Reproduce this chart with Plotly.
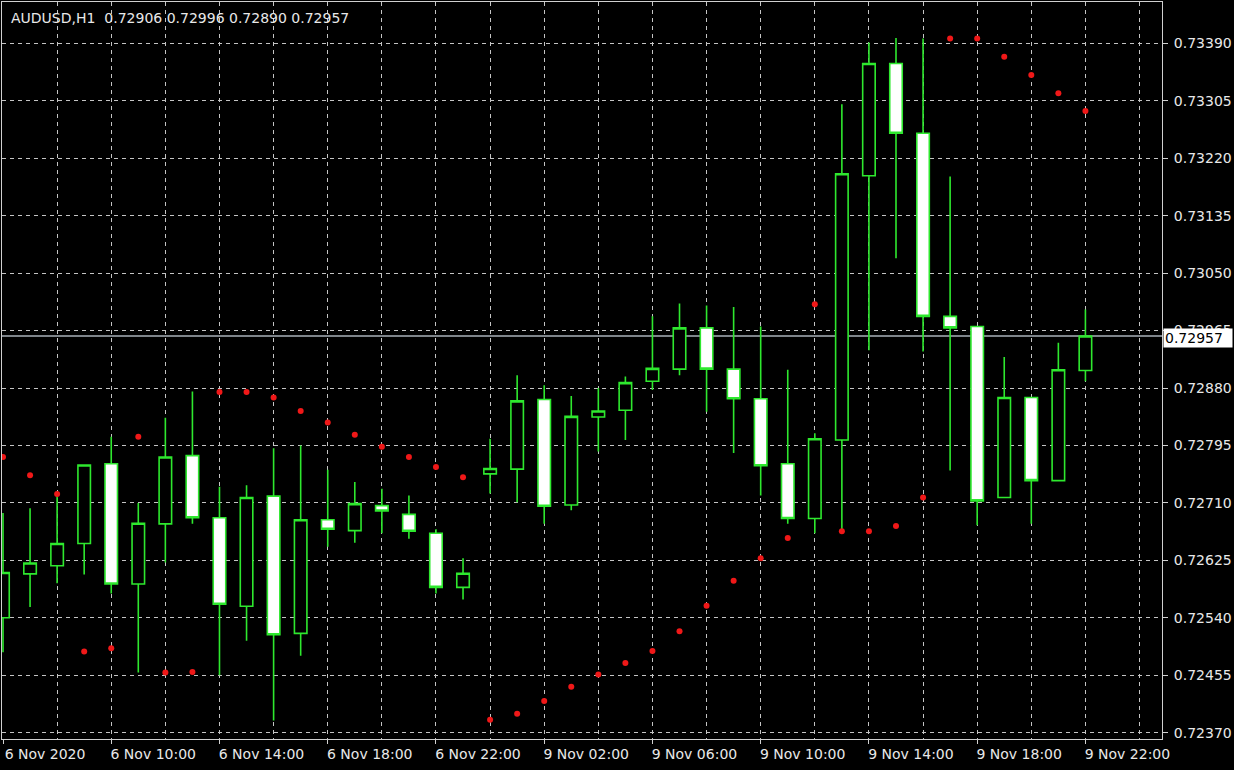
import plotly.graph_objects as go

symbol = "AUDUSD,H1"

# hourly bars: 6 Nov 2020 06:00 ... 9 Nov 2020 22:00 (index 0..40)
open_ = [0.72540, 0.72605, 0.72617, 0.72650, 0.72768, 0.72590, 0.72679, 0.72780, 0.72688, 0.72557,
         0.72720, 0.72517, 0.72685, 0.72669, 0.72706, 0.72693, 0.72665, 0.72585, 0.72753, 0.72760,
         0.72863, 0.72707, 0.72837, 0.72847, 0.72890, 0.72908, 0.72969, 0.72908, 0.72864, 0.72768,
         0.72687, 0.72803, 0.73194, 0.73360, 0.73257, 0.72986, 0.72971, 0.72718, 0.72866, 0.72743,
         0.72906]
high = [0.72695, 0.72702, 0.72721, 0.72767, 0.72808, 0.72710, 0.72836, 0.72875, 0.72734, 0.72736,
        0.72791, 0.72795, 0.72759, 0.72741, 0.72731, 0.72721, 0.72671, 0.72628, 0.72805, 0.72899,
        0.72884, 0.72868, 0.72880, 0.72897, 0.72986, 0.73005, 0.73002, 0.73000, 0.72971, 0.72907,
        0.72813, 0.73300, 0.73391, 0.73398, 0.73397, 0.73193, 0.72972, 0.72926, 0.72867, 0.72947,
        0.72996]
low = [0.72489, 0.72556, 0.72591, 0.72604, 0.72576, 0.72459, 0.72622, 0.72679, 0.72455, 0.72506,
       0.72388, 0.72484, 0.72645, 0.72651, 0.72665, 0.72657, 0.72576, 0.72567, 0.72724, 0.72711,
       0.72679, 0.72699, 0.72786, 0.72803, 0.72877, 0.72899, 0.72845, 0.72784, 0.72721, 0.72679,
       0.72665, 0.72669, 0.72936, 0.73072, 0.72934, 0.72758, 0.72677, 0.72717, 0.72679, 0.72742,
       0.72890]
close = [0.72607, 0.72621, 0.72650, 0.72766, 0.72590, 0.72680, 0.72778, 0.72688, 0.72560, 0.72718,
         0.72515, 0.72685, 0.72671, 0.72709, 0.72698, 0.72668, 0.72585, 0.72606, 0.72761, 0.72861,
         0.72705, 0.72838, 0.72846, 0.72888, 0.72909, 0.72969, 0.72908, 0.72864, 0.72765, 0.72687,
         0.72805, 0.73197, 0.73360, 0.73257, 0.72986, 0.72969, 0.72713, 0.72866, 0.72743, 0.72907,
         0.72957]
# parabolic SAR dots
sar = [0.72778, 0.72751, 0.72723, 0.72490, 0.72495, 0.72808, 0.72459, 0.72460, 0.72874, 0.72874,
       0.72866, 0.72846, 0.72829, 0.72811, 0.72793, 0.72778, 0.72763, 0.72748, 0.72389, 0.72398,
       0.72417, 0.72438, 0.72456, 0.72473, 0.72491, 0.72520, 0.72558, 0.72595, 0.72628, 0.72658,
       0.73004, 0.72668, 0.72668, 0.72676, 0.72718, 0.73397, 0.73397, 0.73370, 0.73343, 0.73316,
       0.73290]

tick_labels = ["6 Nov 2020", "6 Nov 10:00", "6 Nov 14:00", "6 Nov 18:00", "6 Nov 22:00",
               "9 Nov 02:00", "9 Nov 06:00", "9 Nov 10:00", "9 Nov 14:00", "9 Nov 18:00", "9 Nov 22:00"]
tick_bars = [0, 4, 8, 12, 16, 20, 24, 28, 32, 36, 40]
price_ticks = [0.72370, 0.72455, 0.72540, 0.72625, 0.72710, 0.72795, 0.72880, 0.72965,
               0.73050, 0.73135, 0.73220, 0.73305, 0.73390]

bars = list(range(len(open_)))
GREEN = "#2ee82e"
GRID = "#c4c4c4"
TXT = "#e8e8e8"
FONT = "DejaVu Sans"

fig = go.Figure()
fig.add_trace(go.Candlestick(
    x=bars, open=open_, high=high, low=low, close=close,
    increasing=dict(fillcolor="#000000", line=dict(color=GREEN, width=1.6)),
    decreasing=dict(fillcolor="#ffffff", line=dict(color=GREEN, width=1.6)),
    whiskerwidth=0, showlegend=False, hoverinfo="skip",
))
fig.add_trace(go.Scatter(
    x=bars, y=sar, mode="markers",
    marker=dict(color="#f01818", size=6, line=dict(width=0)),
    showlegend=False, hoverinfo="skip",
))

last_close = close[-1]
fig.add_shape(type="line", xref="paper", x0=0, x1=1, yref="y", y0=last_close, y1=last_close,
              line=dict(color="#a8b0b8", width=1.5), layer="between")

title = f"{symbol}  {open_[-1]:.5f} {high[-1]:.5f} {low[-1]:.5f} {close[-1]:.5f}"
fig.add_annotation(text=title, xref="paper", yref="paper", x=0, y=1, xanchor="left", yanchor="top",
                   xshift=7, yshift=-6, showarrow=False, font=dict(family=FONT, size=14, color=TXT))
fig.add_annotation(text=f"{last_close:.5f}", xref="paper", yref="y", x=1, y=last_close,
                   xanchor="left", yanchor="middle", xshift=1, yshift=-2, showarrow=False,
                   bgcolor="#ffffff", font=dict(family=FONT, size=14, color="#000000"),
                   width=66, height=16, align="left", borderpad=1)

fig.update_layout(
    width=1234, height=770,
    margin=dict(l=2, r=72, t=2, b=31),
    paper_bgcolor="#000000", plot_bgcolor="#000000",
    boxgap=0.34,
    font=dict(family=FONT, size=14, color=TXT),
)
fig.update_xaxes(
    range=[-0.037, 42.83], rangeslider=dict(visible=False),
    tickmode="array", tickvals=tick_bars, ticktext=tick_labels,
    ticks="outside", ticklen=4, tickcolor="#d0d0d0", ticklabelshift=42, ticklabelstandoff=-2,
    tickfont=dict(family=FONT, size=14, color=TXT),
    showgrid=True, gridcolor=GRID, griddash="4px,4px", gridwidth=1,
    minor=dict(dtick=2, tick0=0, showgrid=True, gridcolor=GRID, griddash="4px,4px", ticklen=0),
    showline=True, linecolor="#d0d0d0", linewidth=1, mirror=True,
    zeroline=False, automargin=False,
)
fig.update_yaxes(
    side="right", range=[0.723607, 0.734511],
    tickmode="array", tickvals=price_ticks, tickformat=".5f",
    ticks="outside", ticklen=5, tickcolor="#d0d0d0", ticklabelstandoff=3,
    tickfont=dict(family=FONT, size=14, color=TXT),
    showgrid=True, gridcolor=GRID, griddash="4px,4px", gridwidth=1,
    showline=True, linecolor="#d0d0d0", linewidth=1, mirror=True,
    zeroline=False, automargin=False,
)

fig.write_html(
    "out.html",
    config={"displayModeBar": False},
    post_script="document.body.style.margin='0';document.body.style.overflow='hidden';document.body.style.background='#000';",
)
